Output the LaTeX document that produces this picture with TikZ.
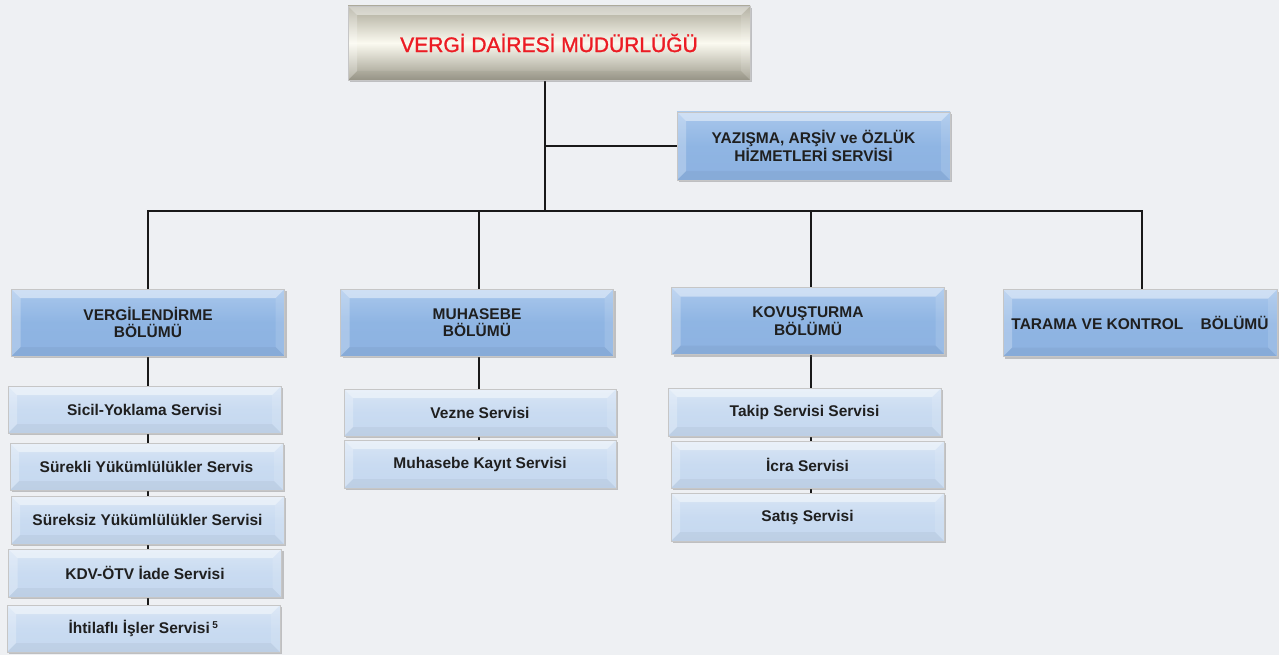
\documentclass[tikz,border=0pt]{standalone}
\usepackage{fontspec}
\setmainfont{Liberation Sans}
\newfontfamily\titlefont[FakeBold=1.3]{Liberation Sans}
\usetikzlibrary{shadows,backgrounds,calc}
\definecolor{bgc}{HTML}{EEF0F3}
\definecolor{secmid}{HTML}{8FB5E3}
\definecolor{sectop}{HTML}{A9C7EC}
\definecolor{secbot}{HTML}{8DB2E1}
\definecolor{svcmid}{HTML}{C9DBF1}
\definecolor{svctop}{HTML}{D8E5F5}
\definecolor{svcbot}{HTML}{C5D8EF}
\definecolor{topedge}{HTML}{ABA898}
\definecolor{topmid}{HTML}{FBFAF0}
\definecolor{titlered}{HTML}{EC1C24}
\tikzset{
  bevel/.style={path picture={
    \fill[white,opacity=.45] (path picture bounding box.north west) -- (path picture bounding box.north east) -- ([shift={(-9pt,-9pt)}]path picture bounding box.north east) -- ([shift={(9pt,-9pt)}]path picture bounding box.north west) -- cycle;
    \fill[white,opacity=.25] (path picture bounding box.north west) -- ([shift={(9pt,-9pt)}]path picture bounding box.north west) -- ([shift={(9pt,9pt)}]path picture bounding box.south west) -- (path picture bounding box.south west) -- cycle;
    \fill[black,opacity=.04] (path picture bounding box.south west) -- ([shift={(9pt,9pt)}]path picture bounding box.south west) -- ([shift={(-9pt,9pt)}]path picture bounding box.south east) -- (path picture bounding box.south east) -- cycle;
    \fill[white,opacity=.12] (path picture bounding box.north east) -- ([shift={(-9pt,-9pt)}]path picture bounding box.north east) -- ([shift={(-9pt,9pt)}]path picture bounding box.south east) -- (path picture bounding box.south east) -- cycle;
  }},
  boxbase/.style={rectangle, inner sep=2pt, align=center, text=black!88,
    font=\bfseries\fontsize{15.5}{17.5}\selectfont,
    drop shadow={shadow xshift=2pt, shadow yshift=-2pt, opacity=.35, fill=black!60},
    draw=white!55!gray, line width=0.6pt},
  secbox/.style={boxbase, bevel, minimum width=273pt, minimum height=67pt,
    top color=sectop, bottom color=secbot, middle color=secmid},
  svcbox/.style={boxbase, bevel, minimum width=273pt, minimum height=47pt,
    top color=svctop, bottom color=svcbot, middle color=svcmid},
  topbox/.style={boxbase, bevel, minimum width=402pt, minimum height=74pt,
    top color=topedge, bottom color=topedge!92!black, middle color=topmid,
    text=titlered, font=\titlefont\fontsize{21}{25}\selectfont},
  conn/.style={draw=black!90, line width=1.7pt},
}
\begin{document}
\begin{tikzpicture}[x=1pt,y=-1pt]
\begin{scope}[on background layer]
  \fill[bgc] (0,0) rectangle (1279,655);
\end{scope}
\useasboundingbox (0,0) rectangle (1279,655);

\node[topbox] (top) at (549,43) {VERGİ DAİRESİ MÜDÜRLÜĞÜ};
\node[secbox, minimum height=68pt] (yaz) at (813.5,146) {YAZIŞMA, ARŞİV ve ÖZLÜK\\HİZMETLERİ SERVİSİ};

\node[secbox] (verg) at (148,322.5) {VERGİLENDİRME\\BÖLÜMÜ};
\node[secbox] (muh) at (477,322.5) {MUHASEBE\\BÖLÜMÜ};
\node[secbox] (kov) at (808,321) {KOVUŞTURMA\\BÖLÜMÜ};
\node[secbox, minimum width=274pt] (tar) at (1140,323) {TARAMA VE KONTROL\ \ \ \ BÖLÜMÜ};

\node[svcbox] (sicil) at (144.5,409.5) {Sicil-Yoklama Servisi};
\node[svcbox] (surekli) at (146.5,466.5) {Sürekli Yükümlülükler Servis};
\node[svcbox, minimum height=48pt] (sureksiz) at (147.5,520) {Süreksiz Yükümlülükler Servisi};
\node[svcbox, minimum height=48pt] (kdv) at (145,573) {KDV-ÖTV İade Servisi};
\node[svcbox] (ihtil) at (143.5,628.5) {İhtilaflı İşler Servisi\,\textsuperscript{\fontsize{10}{10}\selectfont 5}};

\node[svcbox, minimum width=272pt] (vezne) at (480,412.5) {Vezne Servisi};
\node[svcbox, minimum width=272pt, minimum height=48pt] (kayit) at (480,464) {Muhasebe Kayıt Servisi};

\node[svcbox, minimum height=48pt] (takip) at (804.5,412) {Takip Servisi Servisi};
\node[svcbox] (icra) at (807.5,464.5) {İcra Servisi};
\node[svcbox, minimum height=48pt] (satis) at (807.5,517) {Satış Servisi};

\coordinate (bus) at (545,211);
\coordinate (dv) at (148,211);
\coordinate (dm) at (479,211);
\coordinate (dk) at (811,211);
\coordinate (dt) at (1142,211);

\begin{scope}[on background layer]
  \draw[conn] (top.south -| bus) -- (bus);
  \draw[conn] (yaz.west) -- (yaz.west -| bus);
  \draw[conn] (verg.north -| dv) |- (bus) -| (tar.north -| dt);
  \draw[conn] (muh.north -| dm) -- (dm);
  \draw[conn] (kov.north -| dk) -- (dk);
  \draw[conn] (verg.south -| dv) -- (ihtil.north -| dv);
  \draw[conn] (muh.south -| dm) -- (kayit.north -| dm);
  \draw[conn] (kov.south -| dk) -- (satis.north -| dk);
\end{scope}
\end{tikzpicture}
\end{document}
